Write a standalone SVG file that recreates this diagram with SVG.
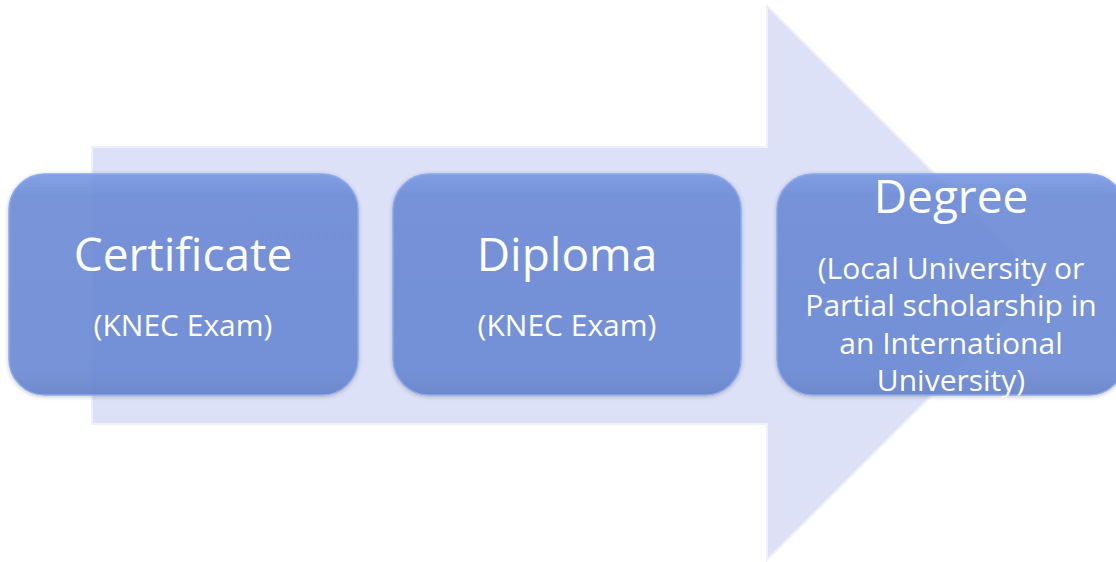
<svg xmlns="http://www.w3.org/2000/svg" width="1116" height="562" viewBox="0 0 1116 562">
<style>
.t{font-family:"Open Sans","Noto Sans","Liberation Sans",sans-serif;fill:#ffffff;text-anchor:middle}
.h{font-size:46px}
.s{font-size:30px}
.box{fill:url(#bg);stroke:#8aa8ec;stroke-width:1.5;filter:url(#sh)}
</style>
<defs>
<linearGradient id="bg" x1="0" y1="0" x2="0" y2="1">
<stop offset="0" stop-color="#7a9ae6" stop-opacity="0.9"/>
<stop offset="0.1" stop-color="#6a8ad8" stop-opacity="0.86"/>
<stop offset="0.9" stop-color="#6888d6" stop-opacity="0.86"/>
<stop offset="1" stop-color="#6482c8" stop-opacity="0.9"/>
</linearGradient>
<filter id="sh" x="-5%" y="-5%" width="110%" height="115%">
<feGaussianBlur in="SourceAlpha" stdDeviation="2"/>
<feOffset dy="1" result="b"/>
<feFlood flood-color="#000" flood-opacity="0.25"/>
<feComposite in2="b" operator="in"/>
<feMerge><feMergeNode/><feMergeNode in="SourceGraphic"/></feMerge>
</filter>
</defs>
<g id="arrow">
<polygon points="92,147 767,147 767,6 1044,283 767,560 767,424 92,424" fill="#dde1f7" stroke="#eef0fb" stroke-width="2"/>
</g>
<g id="certificate">
<rect class="box" x="9" y="174" width="349" height="221" rx="36"/>
<text class="t h" x="183" y="271">Certificate</text>
<text class="t s" x="183" y="336">(KNEC Exam)</text>
</g>
<g id="diploma">
<rect class="box" x="393" y="174" width="348" height="221" rx="36"/>
<text class="t h" x="567" y="271">Diploma</text>
<text class="t s" x="567" y="336">(KNEC Exam)</text>
</g>
<g id="degree">
<rect class="box" x="777" y="174" width="348" height="221" rx="36"/>
<text class="t h" x="951" y="213">Degree</text>
<text class="t s" x="951" y="279">(Local University or</text>
<text class="t s" x="951" y="316">Partial scholarship in</text>
<text class="t s" x="951" y="354">an International</text>
<text class="t s" x="951" y="391">University)</text>
</g>
<g id="connectors"/>
</svg>
